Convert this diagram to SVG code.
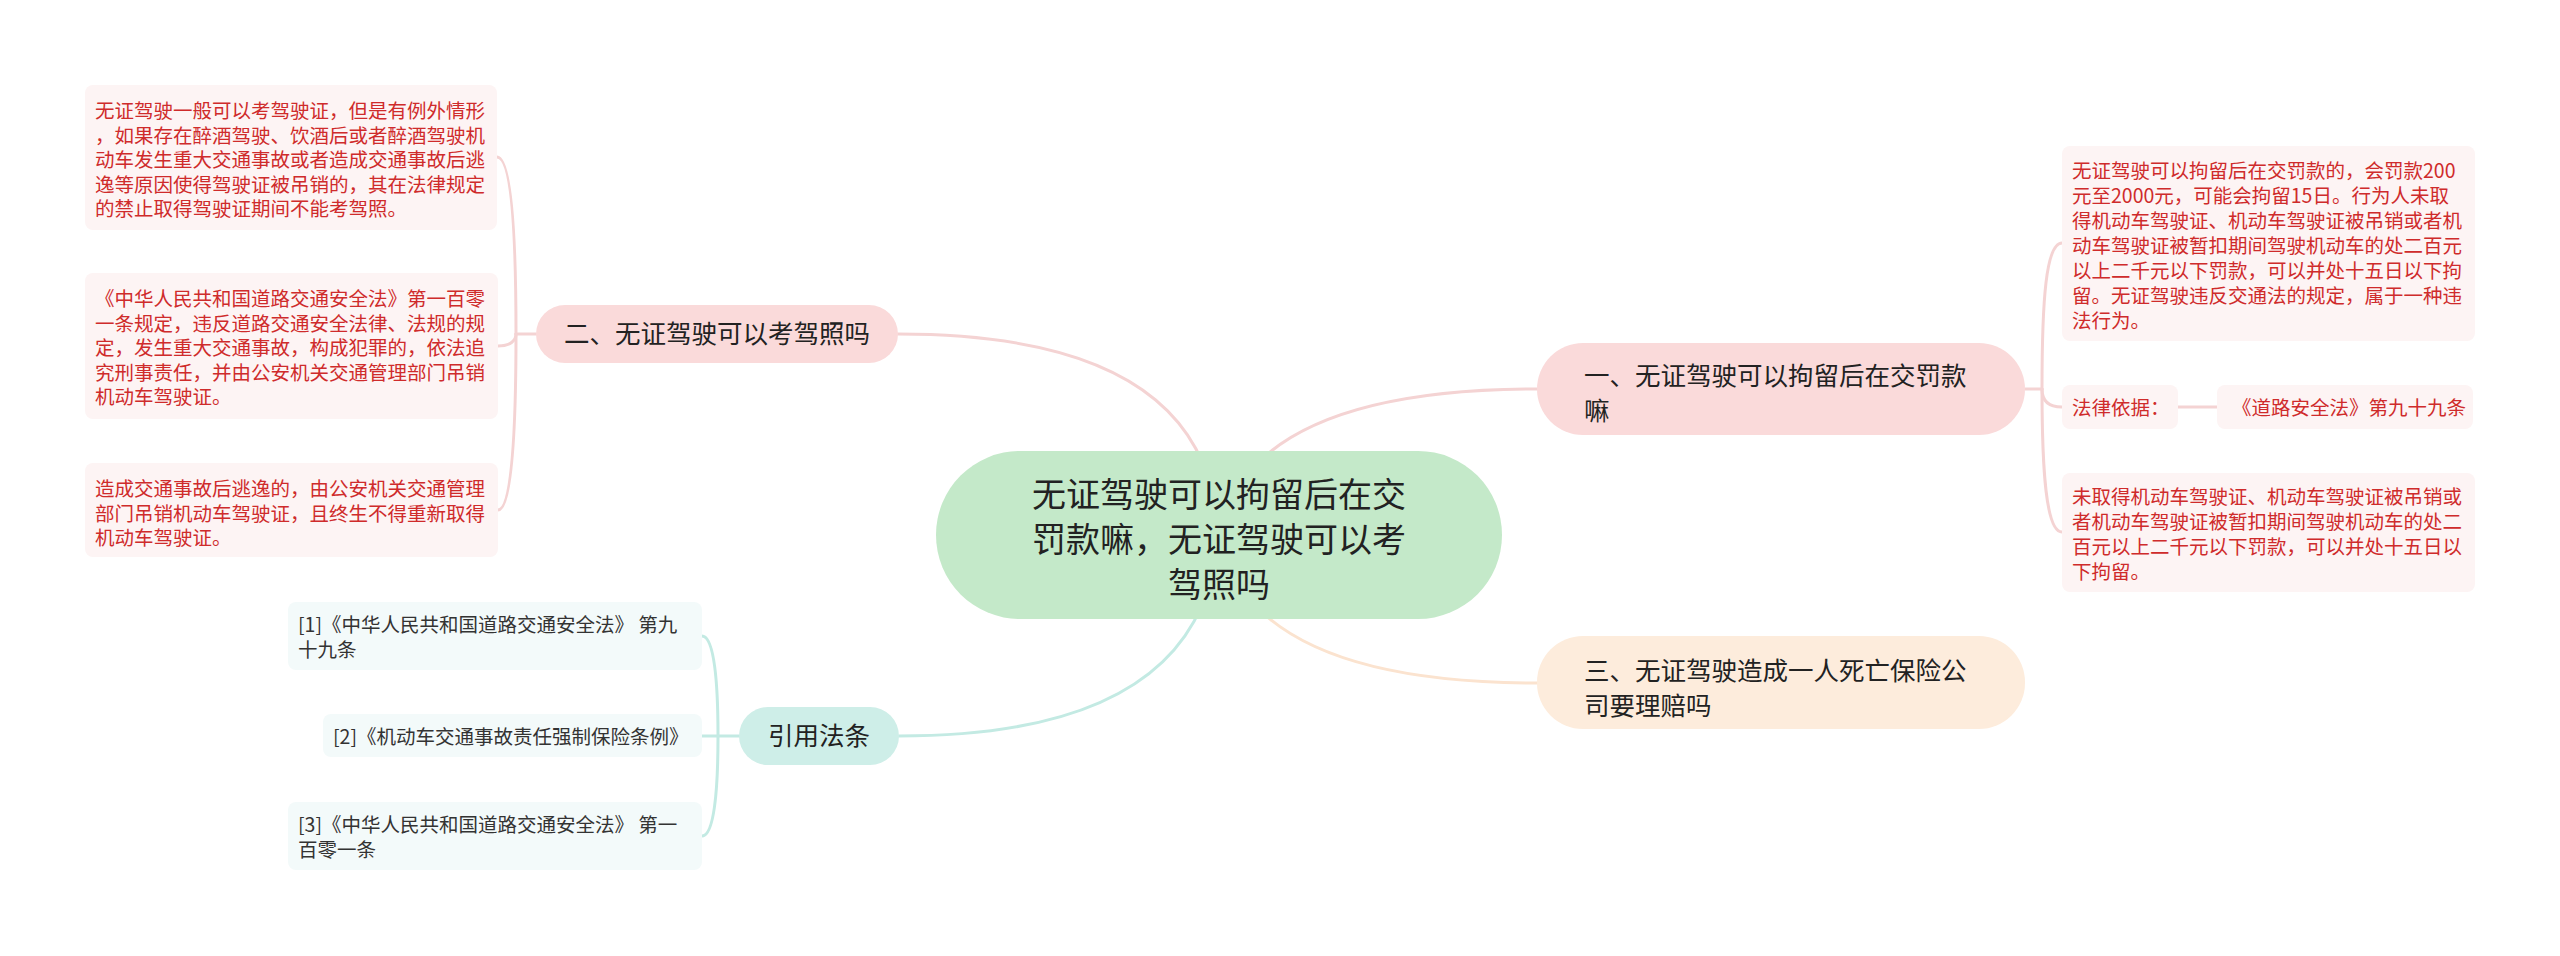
<svg xmlns="http://www.w3.org/2000/svg" width="2560" height="956" viewBox="0 0 2560 956">
<style>
text{font-family:"Noto Sans CJK SC","Noto Sans",sans-serif}
.c{fill:none;stroke-width:3;stroke-linecap:round}
.pk{stroke:#f4d3d3}
.pc{stroke:#fbe3cf}
.tl{stroke:#c3eae3}
.leafR{fill:#fdf4f4}
.leafT{fill:#f3fafa}
.rt{fill:#cf2b2b;font-size:19.5px}
.dt{fill:#333;font-size:19.5px}
.bt{fill:#222;font-size:25.5px}
</style>
<rect width="2560" height="956" fill="#fff"/>
<g id="connectors">
<path class="c pk" d="M1218,535 Q1250,389 1537,389"/>
<path class="c pk" d="M1218,535 Q1210,334 898,334"/>
<path class="c pc" d="M1218,535 Q1250,683 1537,683"/>
<path class="c tl" d="M1218,535 Q1205,736 899,736"/>
<path class="c pk" d="M2025,389 H2042"/>
<path class="c pk" d="M2042,389 C2042,300 2046,243 2062,243"/>
<path class="c pk" d="M2042,389 C2042,400 2048,407 2062,407"/>
<path class="c pk" d="M2042,389 C2042,470 2046,532 2062,532"/>
<path class="c pk" d="M2178,407 H2217"/>
<path class="c pk" d="M536,334 H516"/>
<path class="c pk" d="M516,334 C516,240 512,157 497,157"/>
<path class="c pk" d="M516,334 C516,340 511,346 498,346"/>
<path class="c pk" d="M516,334 C516,430 512,510 498,510"/>
<path class="c tl" d="M739,736 H718"/>
<path class="c tl" d="M718,736 C718,680 714,636 702,636"/>
<path class="c tl" d="M718,736 H702"/>
<path class="c tl" d="M718,736 C718,792 714,836 702,836"/>
</g>
<g id="center">
<rect x="936" y="451" width="566" height="168" rx="84" fill="#c4e9c9"/>
<text x="1219" y="507" text-anchor="middle" font-size="34" fill="#222">无证驾驶可以拘留后在交</text>
<text x="1219" y="552" text-anchor="middle" font-size="34" fill="#222">罚款嘛，无证驾驶可以考</text>
<text x="1219" y="597" text-anchor="middle" font-size="34" fill="#222">驾照吗</text>
</g>
<g id="branch1">
<rect x="1537" y="343" width="488" height="92" rx="46" fill="#fadada"/>
<text class="bt" x="1584" y="385">一、无证驾驶可以拘留后在交罚款</text>
<text class="bt" x="1584" y="420">嘛</text>
</g>
<g id="branch2">
<rect x="536" y="305" width="362" height="58" rx="29" fill="#fadada"/>
<text class="bt" x="717" y="343" text-anchor="middle" font-size="25">二、无证驾驶可以考驾照吗</text>
</g>
<g id="branch3">
<rect x="1537" y="636" width="488" height="93" rx="46" fill="#fdecdc"/>
<text class="bt" x="1584" y="680">三、无证驾驶造成一人死亡保险公</text>
<text class="bt" x="1584" y="715">司要理赔吗</text>
</g>
<g id="branch4">
<rect x="739" y="707" width="160" height="58" rx="29" fill="#ceeee8"/>
<text class="bt" x="819" y="745" text-anchor="middle">引用法条</text>
</g>
<g id="leafA">
<rect class="leafR" x="85" y="85" width="412" height="145" rx="8"/>
<text class="rt" x="95" y="118">无证驾驶一般可以考驾驶证，但是有例外情形</text>
<text class="rt" x="95" y="143">，如果存在醉酒驾驶、饮酒后或者醉酒驾驶机</text>
<text class="rt" x="95" y="167">动车发生重大交通事故或者造成交通事故后逃</text>
<text class="rt" x="95" y="192">逸等原因使得驾驶证被吊销的，其在法律规定</text>
<text class="rt" x="95" y="216">的禁止取得驾驶证期间不能考驾照。</text>
</g>
<g id="leafB">
<rect class="leafR" x="85" y="273" width="413" height="146" rx="8"/>
<text class="rt" x="95" y="306">《中华人民共和国道路交通安全法》第一百零</text>
<text class="rt" x="95" y="331">一条规定，违反道路交通安全法律、法规的规</text>
<text class="rt" x="95" y="355">定，发生重大交通事故，构成犯罪的，依法追</text>
<text class="rt" x="95" y="380">究刑事责任，并由公安机关交通管理部门吊销</text>
<text class="rt" x="95" y="404">机动车驾驶证。</text>
</g>
<g id="leafC">
<rect class="leafR" x="85" y="463" width="413" height="94" rx="8"/>
<text class="rt" x="95" y="496">造成交通事故后逃逸的，由公安机关交通管理</text>
<text class="rt" x="95" y="521">部门吊销机动车驾驶证，且终生不得重新取得</text>
<text class="rt" x="95" y="545">机动车驾驶证。</text>
</g>
<g id="leafD">
<rect class="leafR" x="2062" y="146" width="413" height="195" rx="8"/>
<text class="rt" x="2072" y="178">无证驾驶可以拘留后在交罚款的，会罚款200</text>
<text class="rt" x="2072" y="203">元至2000元，可能会拘留15日。行为人未取</text>
<text class="rt" x="2072" y="228">得机动车驾驶证、机动车驾驶证被吊销或者机</text>
<text class="rt" x="2072" y="253">动车驾驶证被暂扣期间驾驶机动车的处二百元</text>
<text class="rt" x="2072" y="278">以上二千元以下罚款，可以并处十五日以下拘</text>
<text class="rt" x="2072" y="303">留。无证驾驶违反交通法的规定，属于一种违</text>
<text class="rt" x="2072" y="328">法行为。</text>
</g>
<g id="leafE">
<rect class="leafR" x="2062" y="385" width="116" height="44" rx="8"/>
<text class="rt" x="2072" y="415">法律依据：</text>
</g>
<g id="leafF">
<rect class="leafR" x="2217" y="385" width="256" height="44" rx="8"/>
<text class="rt" x="2232" y="415">《道路安全法》第九十九条</text>
</g>
<g id="leafG">
<rect class="leafR" x="2062" y="473" width="413" height="119" rx="8"/>
<text class="rt" x="2072" y="504">未取得机动车驾驶证、机动车驾驶证被吊销或</text>
<text class="rt" x="2072" y="529">者机动车驾驶证被暂扣期间驾驶机动车的处二</text>
<text class="rt" x="2072" y="554">百元以上二千元以下罚款，可以并处十五日以</text>
<text class="rt" x="2072" y="579">下拘留。</text>
</g>
<g id="leafH">
<rect class="leafT" x="288" y="602" width="414" height="68" rx="8"/>
<text class="dt" x="298" y="632">[1]《中华人民共和国道路交通安全法》 第九</text>
<text class="dt" x="298" y="657">十九条</text>
</g>
<g id="leafI">
<rect class="leafT" x="323" y="714" width="379" height="43" rx="8"/>
<text class="dt" x="333" y="744">[2]《机动车交通事故责任强制保险条例》</text>
</g>
<g id="leafJ">
<rect class="leafT" x="288" y="802" width="414" height="68" rx="8"/>
<text class="dt" x="298" y="832">[3]《中华人民共和国道路交通安全法》 第一</text>
<text class="dt" x="298" y="857">百零一条</text>
</g>
</svg>
